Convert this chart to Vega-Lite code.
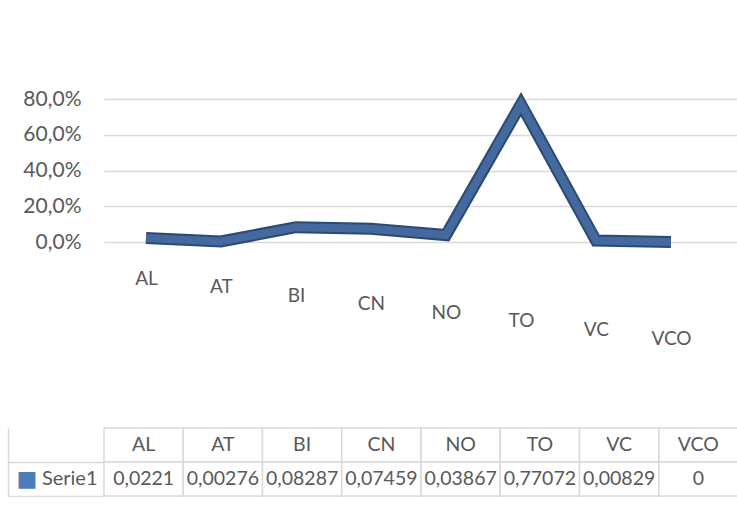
{
  "$schema": "https://vega.github.io/schema/vega-lite/v6.json",
  "padding": {"left": 7, "top": 80, "right": 0, "bottom": 0},
  "bounds": "flush",
  "spacing": 186,
  "background": "white",
  "config": {
    "locale": {"number": {"decimal": ",", "thousands": ".", "grouping": [3], "currency": ["", " €"]}},
    "view": {"stroke": null},
    "font": "Lato",
    "axis": {"labelFont": "Lato", "labelColor": "#595959"}
  },
  "datasets": {
    "shares": [
      {"category": "AL", "value": 0.0221},
      {"category": "AT", "value": 0.00276},
      {"category": "BI", "value": 0.08287},
      {"category": "CN", "value": 0.07459},
      {"category": "NO", "value": 0.03867},
      {"category": "TO", "value": 0.77072},
      {"category": "VC", "value": 0.00829},
      {"category": "VCO", "value": 0}
    ]
  },
  "vconcat": [
    {
      "width": 634,
      "height": 143,
      "data": {"name": "shares"},
      "encoding": {
        "x": {
          "field": "category", "type": "nominal", "sort": null,
          "scale": {"type": "point", "padding": 0.7267, "align": 0.385},
          "axis": {"title": null, "domain": false, "ticks": false, "labelAngle": 0, "labelFontSize": 19,
                   "labelPadding": {"expr": "27 + 60 * datum.index"}}
        },
        "y": {
          "field": "value", "type": "quantitative",
          "scale": {"domain": [0, 0.8], "nice": false},
          "axis": {"title": null, "values": [0, 0.2, 0.4, 0.6, 0.8], "format": ".1%", "domain": false, "ticks": false,
                   "labelFontSize": 21, "labelPadding": 23, "gridColor": "#d9d9d9", "gridWidth": 1.5}
        }
      },
      "layer": [
        {"mark": {"type": "line", "strokeWidth": 12, "color": "#2b4a73", "strokeJoin": "miter"}},
        {"mark": {"type": "line", "strokeWidth": 8, "color": "#43699e", "strokeJoin": "miter"}}
      ]
    },
    {
      "width": 634,
      "height": 68,
      "data": {"name": "shares"},
      "encoding": {
        "x": {"field": "category", "type": "nominal", "sort": null,
              "scale": {"type": "band", "paddingInner": 0, "paddingOuter": 0}, "axis": null}
      },
      "layer": [
        {
          "mark": {"type": "rect", "fill": "white", "stroke": "#d9d9d9", "strokeWidth": 1.5},
          "encoding": {
            "y": {"datum": "h", "type": "nominal",
                  "scale": {"domain": ["h", "v"], "paddingInner": 0, "paddingOuter": 0},
                  "axis": {"title": null, "orient": "left", "domain": false, "ticks": true, "bandPosition": 1, "tickSize": 96,
                           "tickColor": "#d9d9d9", "tickWidth": 1.5, "labelPadding": -89,
                           "labelExpr": "datum.value == 'v' ? 'Serie1' : ''", "labelFontSize": 20}}
          }
        },
        {
          "mark": {"type": "rect", "fill": "white", "stroke": "#d9d9d9", "strokeWidth": 1.5},
          "encoding": {
            "y": {"datum": "v", "type": "nominal",
                  "axis": {"title": null, "orient": "left", "offset": 96, "domain": true, "domainColor": "#d9d9d9", "domainWidth": 1.5,
                           "ticks": false, "labelAlign": "left", "labelPadding": -8,
                           "labelExpr": "datum.value == 'v' ? '■' : ''", "labelColor": "#4a7ebb",
                           "labelFont": "DejaVu Sans", "labelFontSize": 22}}
          }
        },
        {
          "mark": {"type": "text", "fontSize": 19.5, "color": "#595959"},
          "encoding": {"y": {"datum": "h", "type": "nominal", "axis": null}, "text": {"field": "category"}}
        },
        {
          "mark": {"type": "text", "fontSize": 19.5, "color": "#595959"},
          "encoding": {"y": {"datum": "v", "type": "nominal", "axis": null},
                       "text": {"field": "value", "type": "quantitative", "format": "~g"}}
        }
      ],
      "resolve": {"axis": {"y": "independent"}}
    }
  ]
}
